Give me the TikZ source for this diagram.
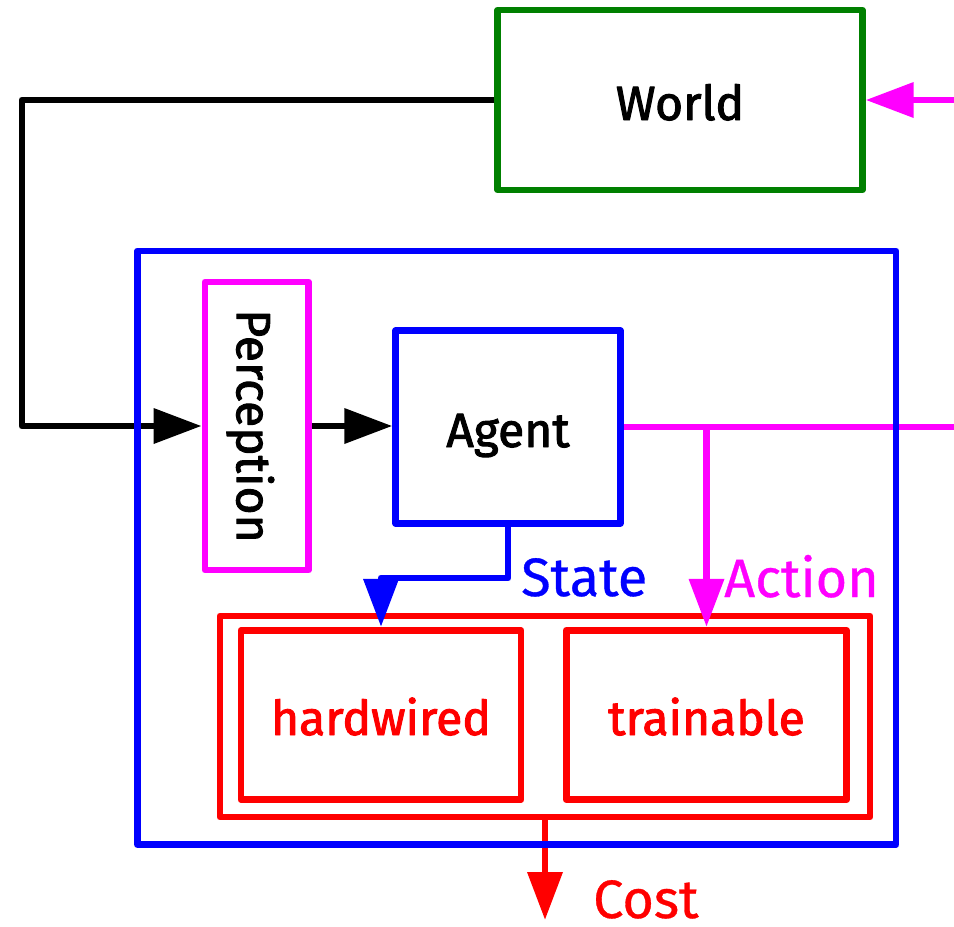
\documentclass[tikz,border=0pt]{standalone}
\usepackage{fontspec}
\setmainfont{Fira Sans}
\newfontfamily\medfont{Fira Sans}[FakeBold=2.0]
\newfontfamily\lblfont{Fira Sans}[FakeBold=0.6]
\usetikzlibrary{arrows.meta}
\definecolor{wgreen}{RGB}{0,128,0}
\definecolor{wmag}{RGB}{255,0,255}
\definecolor{wblue}{RGB}{0,0,255}
\definecolor{wred}{RGB}{255,0,0}
\begin{document}
\begin{tikzpicture}[x=1pt,y=-1pt,
  box/.style={draw, line width=6.8pt, inner sep=0pt, line join=round,
    text height=40pt, text depth=0pt,
    font=\medfont\fontsize{48}{58}\selectfont},
  conn/.style={line width=6.8pt, line join=round},
  tip/.style={-{Triangle[length=48pt,width=34pt]}},
  lbl/.style={inner sep=0pt, anchor=base west, font=\lblfont\fontsize{54}{64}\selectfont}]
\useasboundingbox (0,0) rectangle (954,927);
% nodes
\node[box, draw=wgreen, minimum width=364.5pt, minimum height=180pt] (world) at (680,100) {World};
\node[box, draw=wmag, rotate=-90, minimum width=288pt, minimum height=103.5pt] (perc) at (256.75,426) {Perception};
\node[box, draw=wblue, minimum width=224.5pt, minimum height=192.5pt] (agent) at (508,427) {Agent};
\node[box, draw=wred, minimum width=650pt, minimum height=201pt] (costbox) at (545,716.5) {};
\node[box, draw=wred, text=wred, minimum width=280pt, minimum height=169.5pt] (hard) at (381,715) {hardwired};
\node[box, draw=wred, text=wred, minimum width=280.5pt, minimum height=169.5pt] (train) at (706.5,715) {trainable};
% coordinates
\coordinate (lx) at (22,0);
\coordinate (sy) at (0,578);
\coordinate (rx) at (990,0);
\coordinate (costend) at (545,920);
% connectors (perc is rotated: its south anchor lies on the left, north on the right)
\draw[conn, tip] (world.west) -- (world.west -| lx) -- (perc.south -| lx) -- (perc.south);
\draw[conn, tip] (perc.north) -- (perc.north -| agent.west);
\draw[conn, wmag, tip] (agent.east) -- (agent.east -| rx) -- (world.east -| rx) -- (world.east);
\draw[conn, wmag, tip] (agent.east -| train.north) -- (train.north);
\draw[conn, wblue, tip] (agent.south) -- (agent.south |- sy) -- (hard.north |- sy) -- (hard.north);
\draw[conn, wred, tip] (costbox.south) -- (costend);
% outer agent box
\node[box, draw=wblue, minimum width=758.5pt, minimum height=593.5pt] (outer) at (516.75,547.75) {};
% labels
\node[lbl, text=wblue] (state) at (521,596) {State};
\node[lbl, text=wmag] (action) at (724,597) {Action};
\node[lbl, text=wred] (cost) at (593,918) {Cost};
\end{tikzpicture}
\end{document}
